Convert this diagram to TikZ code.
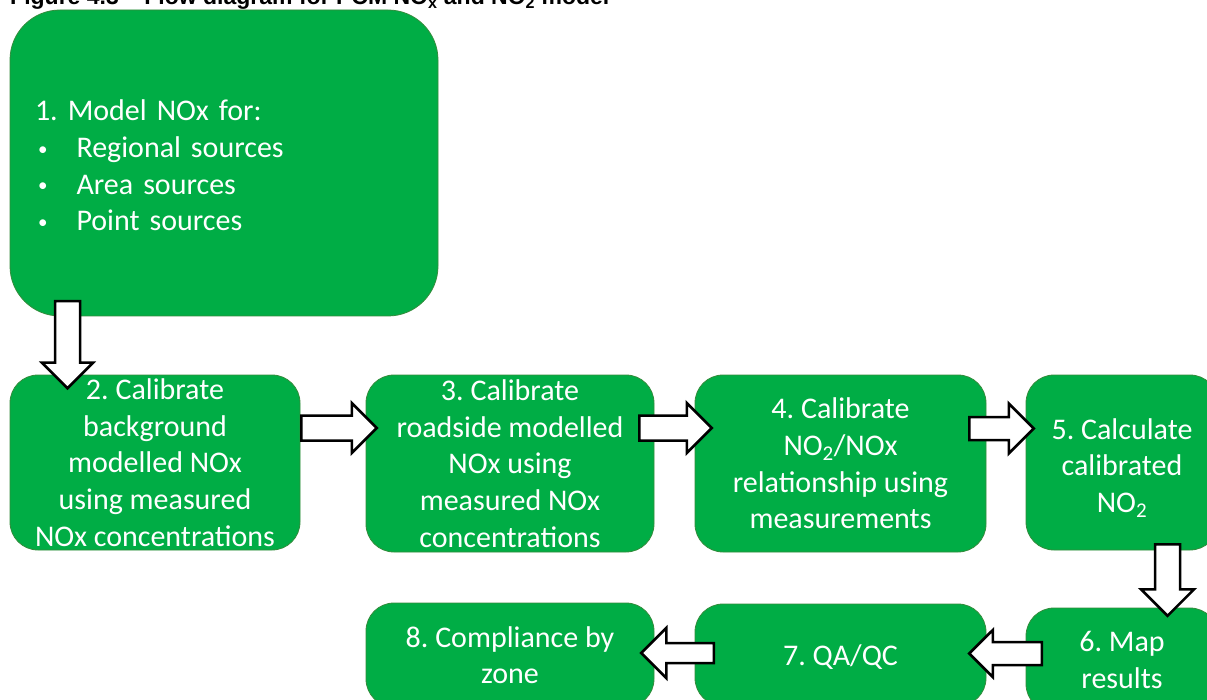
\documentclass[tikz,border=0pt]{standalone}
\usepackage{fontspec}
\usetikzlibrary{shapes.arrows}
\newfontfamily\boxfont{Carlito}
\newfontfamily\titlefont{Liberation Sans}
\definecolor{boxgreen}{RGB}{0,173,69}
\definecolor{boxborder}{RGB}{52,140,60}
\newcommand{\smallbullet}{\makebox[41.5pt][l]{\hspace{3pt}\raisebox{2.5pt}{\fontsize{19}{19}\selectfont•}}}
\tikzset{
  box/.style={draw=boxborder, line width=0.8pt, fill=boxgreen, rounded corners=28pt,
    text=white, font=\boxfont\fontsize{30}{36.6}\selectfont\frenchspacing, align=center, inner sep=0pt},
  blockarrow/.style={shape=single arrow, draw=black, fill=white, line width=2.5pt,
    inner xsep=0pt, outer sep=0pt, single arrow tip angle=90, anchor=tail},
}
\begin{document}
\begin{tikzpicture}[x=1pt,y=-1pt]
\clip (0,0) rectangle (1207,700);
\useasboundingbox (0,0) rectangle (1207,700);
\fill[white] (0,0) rectangle (1207,700);
% title (cut off at top)
\node[anchor=base west, inner sep=0pt, font=\titlefont\bfseries\fontsize{23}{27}\selectfont] (title) at (10,5)
  {Figure 4.3 – Flow diagram for PCM NO\textsubscript{x} and NO\textsubscript{2} model};
% boxes
\node[box, rounded corners=50pt, minimum width=428pt, minimum height=306pt, text width=378pt,
  align=left, inner xsep=25pt] (b1) at (224,163)
  {\rule{0pt}{26pt}1. Model NOx for:\\
   \smallbullet Regional sources\\
   \smallbullet Area sources\\
   \smallbullet Point sources};
\node[box, minimum width=290pt, minimum height=175pt] (b2) at (155,462.5)
  {2. Calibrate\\background\\modelled NOx\\using measured\\NOx concentrations};
\node[box, minimum width=288pt, minimum height=177pt] (b3) at (510,463.5)
  {3. Calibrate\\roadside modelled\\NOx using\\measured NOx\\concentrations};
\node[box, minimum width=291pt, minimum height=177pt] (b4) at (840.5,463.5)
  {4. Calibrate\\NO\textsubscript{2}/NOx\\relationship using\\measurements};
\node[box, minimum width=192pt, minimum height=175pt] (b5) at (1122,462.5)
  {\rule{0pt}{32pt}5. Calculate\\calibrated\\NO\textsubscript{2}};
\node[box, minimum width=192pt, minimum height=104pt] (b6) at (1122,660)
  {6. Map\\results};
\node[box, minimum width=291pt, minimum height=102pt] (b7) at (840.5,655)
  {\rule{0pt}{24pt}7. QA/QC};
\node[box, minimum width=288pt, minimum height=104pt] (b8) at (510,655)
  {8. Compliance by\\zone};
% block arrows
\node[blockarrow, rotate=-90, minimum height=87pt, minimum width=48.5pt, inner ysep=11.25pt, single arrow head extend=13pt] (a12) at (67.5,301.25) {};
\node[blockarrow, minimum height=75.5pt, minimum width=47.5pt, inner ysep=11.25pt, single arrow head extend=12.5pt] (a23) at (301.25,428) {};
\node[blockarrow, minimum height=72.5pt, minimum width=47.5pt, inner ysep=11.25pt, single arrow head extend=12.5pt] (a34) at (639.25,428) {};
\node[blockarrow, minimum height=64.5pt, minimum width=47.5pt, inner ysep=10.25pt, single arrow head extend=13.5pt] (a45) at (969.25,428.5) {};
\node[blockarrow, rotate=-90, minimum height=71.5pt, minimum width=50.5pt, inner ysep=11.25pt, single arrow head extend=14pt] (a56) at (1167.5,544.25) {};
\node[blockarrow, rotate=180, minimum height=72.5pt, minimum width=44.5pt, inner ysep=10.25pt, single arrow head extend=12pt] (a67) at (1041.75,653.5) {};
\node[blockarrow, rotate=180, minimum height=72.5pt, minimum width=47.5pt, inner ysep=8.75pt, single arrow head extend=15pt] (a78) at (713.75,653) {};
\end{tikzpicture}
\end{document}
